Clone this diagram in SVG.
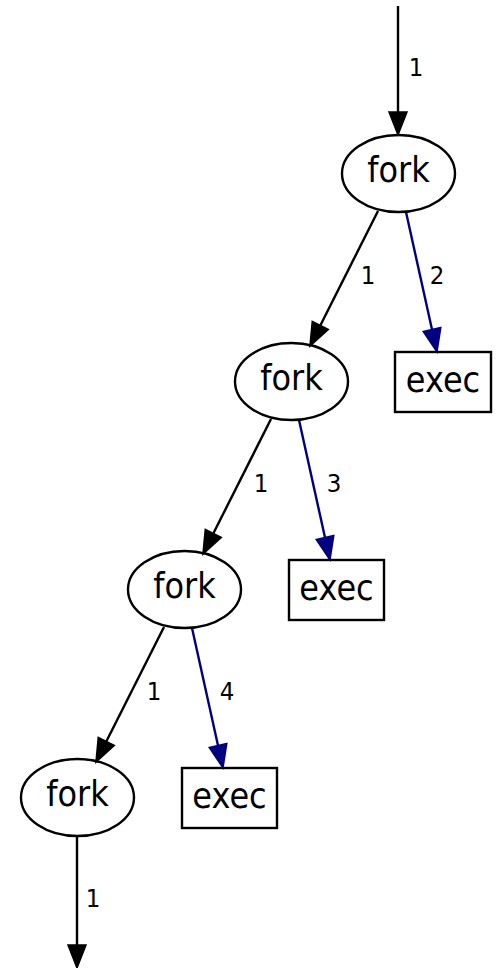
<svg xmlns="http://www.w3.org/2000/svg" width="496" height="968" viewBox="0 0 496 968">
<defs>
<style>
.n{fill:none;stroke:#000;stroke-width:2.4}
.t{font-family:"DejaVu Sans",sans-serif;font-size:32px;text-anchor:middle;fill:#000}
.l{font-family:"DejaVu Sans",sans-serif;font-size:23px;text-anchor:middle;fill:#000}
.e{fill:none;stroke:#000;stroke-width:2.4}
.b{fill:none;stroke:#000080;stroke-width:2.4}
</style>
<marker id="ak" markerUnits="userSpaceOnUse" markerWidth="24" markerHeight="20" refX="0" refY="9" orient="auto" viewBox="0 0 24 18" overflow="visible"><path d="M0,0 L23,9 L0,18 z" fill="#000" stroke="#000" stroke-width="1.5"/></marker>
<marker id="ab" markerUnits="userSpaceOnUse" markerWidth="24" markerHeight="20" refX="0" refY="9" orient="auto" viewBox="0 0 24 18" overflow="visible"><path d="M0,0 L23,9 L0,18 z" fill="#000080" stroke="#000080" stroke-width="1.5"/></marker>
</defs>
<g id="edges">
<line class="e" x1="398" y1="6" x2="398" y2="112" marker-end="url(#ak)"/>
<text class="l" transform="translate(416,76) scale(1,1.08)">1</text>
<line class="e" x1="378" y1="211" x2="320.3" y2="325.5" marker-end="url(#ak)"/>
<text class="l" transform="translate(368,284) scale(1,1.08)">1</text>
<line class="b" x1="406" y1="212" x2="432" y2="329.5" marker-end="url(#ab)"/>
<text class="l" transform="translate(437,284) scale(1,1.08)">2</text>
<line class="e" x1="271" y1="419" x2="213.3" y2="533.5" marker-end="url(#ak)"/>
<text class="l" transform="translate(261,492) scale(1,1.08)">1</text>
<line class="b" x1="299" y1="420" x2="325" y2="537.5" marker-end="url(#ab)"/>
<text class="l" transform="translate(334,492) scale(1,1.08)">3</text>
<line class="e" x1="164" y1="627" x2="106.3" y2="741.5" marker-end="url(#ak)"/>
<text class="l" transform="translate(154,700) scale(1,1.08)">1</text>
<line class="b" x1="192" y1="628" x2="218" y2="745.5" marker-end="url(#ab)"/>
<text class="l" transform="translate(227,700) scale(1,1.08)">4</text>
<line class="e" x1="77" y1="836" x2="77" y2="945" marker-end="url(#ak)"/>
<text class="l" transform="translate(93,907) scale(1,1.08)">1</text>
</g>
<g id="fork1"><ellipse class="n" cx="398.5" cy="173.5" rx="56.5" ry="38.5"/><text class="t" transform="translate(398.5,182) scale(1,1.1)">fork</text></g>
<g id="exec1"><rect class="n" x="395" y="352" width="96" height="60"/><text class="t" transform="translate(443,392) scale(1,1.1)">exec</text></g>
<g id="fork2"><ellipse class="n" cx="291.5" cy="381.5" rx="56.5" ry="38.5"/><text class="t" transform="translate(291.5,390) scale(1,1.1)">fork</text></g>
<g id="exec2"><rect class="n" x="289" y="560" width="95" height="60"/><text class="t" transform="translate(336.5,600) scale(1,1.1)">exec</text></g>
<g id="fork3"><ellipse class="n" cx="184.5" cy="589.5" rx="56.5" ry="38.5"/><text class="t" transform="translate(184.5,598) scale(1,1.1)">fork</text></g>
<g id="exec3"><rect class="n" x="182" y="768" width="95" height="60"/><text class="t" transform="translate(229.5,808) scale(1,1.1)">exec</text></g>
<g id="fork4"><ellipse class="n" cx="77.5" cy="797.5" rx="56.5" ry="38.5"/><text class="t" transform="translate(77.5,806) scale(1,1.1)">fork</text></g>
</svg>
